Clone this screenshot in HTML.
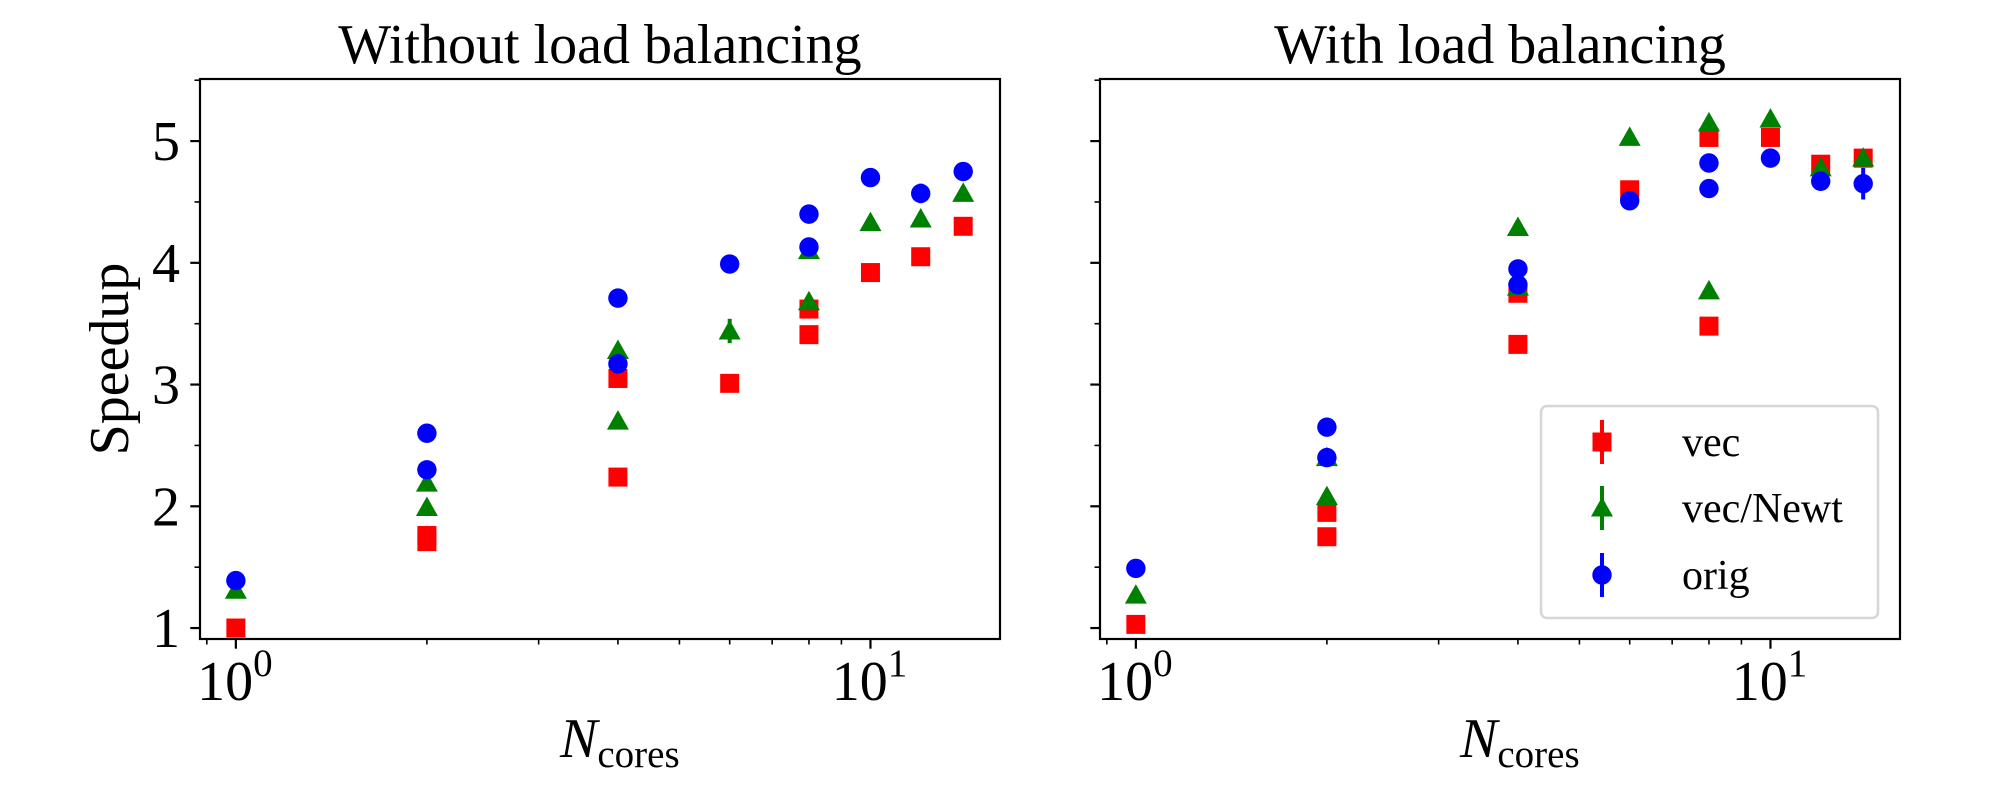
<!DOCTYPE html>
<html><head><meta charset="utf-8"><style>
body{margin:0;background:#fff}
svg, svg text, svg tspan{font-family:"Liberation Serif","Times New Roman",serif !important;fill:#000}
</style></head><body>
<svg id="fig" width="2000" height="800" viewBox="0 0 2000 800" font-family="Liberation Serif, Times New Roman, serif" xmlns="http://www.w3.org/2000/svg"></svg>
<script>
const xCores = [1,2,2,4,4,6,8,8,10,12,14];
// Left panel (without load balancing)
const leftVec  = [1.0,1.76,1.71,2.24,3.05,3.01,3.41,3.62,3.92,4.05,4.30];
const leftNewt = [1.31,1.99,2.19,2.70,3.28,3.44,3.68,4.10,4.33,4.36,4.57];
const leftOrig = [1.39,2.30,2.60,3.17,3.71,3.99,4.13,4.40,4.70,4.57,4.75];
const leftVecErr  = [0,0,0,0,0,0,0,0,0,0,0.05];
const leftNewtErr = [0,0,0,0,0,0.1,0,0,0,0,0];
const leftOrigErr = [0,0,0,0,0,0,0,0,0,0.08,0];
// Right panel (with load balancing)
const rightVec  = [1.03,1.75,1.95,3.33,3.75,4.60,3.48,5.03,5.03,4.81,4.86];
const rightNewt = [1.27,2.08,2.40,3.80,4.29,5.03,3.77,5.15,5.18,4.78,4.86];
const rightOrig = [1.49,2.40,2.65,3.82,3.95,4.51,4.61,4.82,4.86,4.67,4.65];
const rightVecErr  = [0,0,0,0,0,0,0,0,0,0,0];
const rightNewtErr = [0,0,0,0,0,0,0,0,0,0,0.04];
const rightOrigErr = [0,0,0,0,0,0,0,0,0,0,0.13];
const yTicks = [1,2,3,4,5];
const yMinor = [1.5,2.5,3.5,4.5,5.5];
const xMajor = [1,10];
const xMinor = [0.9,2,3,4,5,6,7,8,9,20];
const titles = ["Without load balancing","With load balancing"];
const seriesNames = ["vec","vec/Newt","orig"];
const colors = ["#ff0000","#008000","#0000ff"];

const NS="http://www.w3.org/2000/svg";
const svg=document.getElementById('fig');
const FF="Liberation Serif, Times New Roman, serif";
function mk(tag,attrs,parent){const e=document.createElementNS(NS,tag);for(const k in attrs)e.setAttribute(k,attrs[k]);if(tag==='text')e.setAttribute('font-family',FF);(parent||svg).appendChild(e);return e;}
const xMinV=Math.log10(0.878), xMaxV=Math.log10(16.0);
const yMinV=0.91, yMaxV=5.51;
const plotTop=79, plotBot=639;

function marker(g,kind,cx,cy,col){
  let e;
  if(kind===0){e=mk('rect',{x:cx-9.5,y:cy-9.5,width:19,height:19,fill:col},g);}
  else if(kind===1){e=mk('polygon',{points:`${cx},${cy-11} ${cx-11},${cy+8.5} ${cx+11},${cy+8.5}`,fill:col},g);}
  else {e=mk('ellipse',{cx:cx,cy:cy,rx:9.7,ry:9.7,fill:col},g);}
  return e;
}

function panel(idx,x0,x1,sets,errs){
  const g=mk('g',{});
  
  
  const X=v=>x0+(Math.log10(v)-xMinV)/(xMaxV-xMinV)*(x1-x0);
  const Y=v=>plotBot-(v-yMinV)/(yMaxV-yMinV)*(plotBot-plotTop);
  yTicks.forEach(t=>{
    const l=mk('line',{x1:x0-9.7,x2:x0,y1:Y(t),y2:Y(t),stroke:'#000','stroke-width':2.2},g);
    
    
    if(idx===0){const tx=mk('text',{x:x0-20,y:Y(t)+19,'font-size':56,'text-anchor':'end'},g);tx.textContent=t;
      
      }
  });
  yMinor.forEach(t=>{if(t<yMaxV){const l=mk('line',{x1:x0-5.5,x2:x0,y1:Y(t),y2:Y(t),stroke:'#000','stroke-width':1.6},g);
    
    }});
  xMinor.forEach(t=>{const xx=X(t);if(xx>=x0&&xx<=x1){const l=mk('line',{x1:xx,x2:xx,y1:plotBot,y2:plotBot+5.5,stroke:'#000','stroke-width':1.6},g);
    
    }});
  xMajor.forEach((t,i)=>{const xx=X(t);
    const l=mk('line',{x1:xx,x2:xx,y1:plotBot,y2:plotBot+9.7,stroke:'#000','stroke-width':2.2},g);
    
    
    const tx=mk('text',{x:xx-1,y:700,'font-size':56,'text-anchor':'middle'},g);
    
    
    tx.appendChild(document.createTextNode('10'));
    const sp=mk('tspan',{'font-size':39,dy:-24},tx);sp.textContent=String(i);
  });
  sets.forEach((vals,s)=>{
    vals.forEach((v,i)=>{
      const cx=X(xCores[i]),cy=Y(v),e=errs[s][i];
      if(e>0){const el=mk('line',{x1:cx,x2:cx,y1:Y(v+e),y2:Y(v-e),stroke:colors[s],'stroke-width':4},g);
        
        }
      const m=marker(g,s,cx,cy,colors[s]);
      
      
    });
  });
  const fr=mk('rect',{x:x0,y:plotTop,width:x1-x0,height:plotBot-plotTop,fill:'none',stroke:'#000','stroke-width':2.2},g);
  
  
  const ti=mk('text',{x:(x0+x1)/2,y:63,'font-size':56,'text-anchor':'middle'},g);
  ti.textContent=titles[idx];
  
  
  const xl=mk('text',{x:(x0+x1)/2-40,y:757,'font-size':56},g);
  
  
  const n=mk('tspan',{'font-style':'italic'},xl);n.textContent='N';
  const c=mk('tspan',{'font-size':39,dy:10},xl);c.textContent='cores';
}
panel(0,200,1000,[leftVec,leftNewt,leftOrig],[leftVecErr,leftNewtErr,leftOrigErr]);
panel(1,1100,1900,[rightVec,rightNewt,rightOrig],[rightVecErr,rightNewtErr,rightOrigErr]);

const yl=mk('text',{x:0,y:0,'font-size':56,'text-anchor':'middle',transform:'translate(128,359) rotate(-90)'});
yl.textContent='Speedup';



const lg=mk('g',{});


mk('rect',{x:1541,y:406,width:337,height:212,rx:6,fill:'#fff','fill-opacity':0.8,stroke:'#d6d6d6','stroke-width':2.5},lg);
const ly=[442,508,575];
seriesNames.forEach((nm,s)=>{
  const ent=mk('g',{},lg);
  
  
  mk('line',{x1:1602,x2:1602,y1:ly[s]-22,y2:ly[s]+22,stroke:colors[s],'stroke-width':4},ent);
  marker(ent,s,1602,ly[s],colors[s]);
  const t=mk('text',{x:1682,y:ly[s]+14,'font-size':42},ent);t.textContent=nm;
});
</script>
</body></html>
